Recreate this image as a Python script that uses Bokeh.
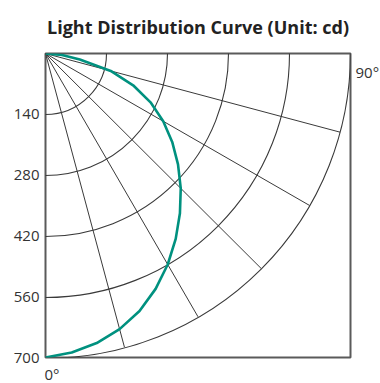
import numpy as np
from bokeh.plotting import figure
from bokeh.models import Range1d, FixedTicker, LinearAxis
from bokeh.embed import file_html
from bokeh.resources import INLINE

# Data
angles_deg = [0, 5, 10, 15, 20, 25, 30, 35, 40, 45, 50, 55, 60, 65, 70, 75, 80, 85, 90]
intensity_cd = [700, 691, 677, 657, 631, 598, 561, 521, 480, 439, 397, 355, 312, 266, 214, 155, 80, 38, 0]
ring_values = [140, 280, 420, 560, 700]
spoke_angles = [15, 30, 45, 60, 75]
angle_labels = ["0°", "90°"]
r_max = 700

TEAL = "#00917f"
GRID = "#3a3a3a"
TEXT = "#333333"
FONT = "Open Sans"

FRAME_W, FRAME_H = 305, 304
px_x = r_max / FRAME_W   # data units per pixel
px_y = r_max / FRAME_H

p = figure(frame_width=FRAME_W, frame_height=FRAME_H, output_backend="svg", toolbar_location=None,
           x_range=Range1d(0, r_max), y_range=Range1d(r_max, 0),
           x_axis_location=None,
           min_border_left=45, min_border_right=30, min_border_top=53, min_border_bottom=26)

p.title.text = "Light Distribution Curve (Unit: cd)"
p.title.align = "center"
p.title.vertical_align = "top"
p.title.offset = -3
p.title.text_font = FONT
p.title.text_font_style = "bold"
p.title.text_font_size = "18px"
p.title.text_color = "#222222"
p.title.standoff = 26

p.xgrid.visible = False
p.ygrid.visible = False
p.outline_line_color = "#5a5a5a"
p.outline_line_width = 2
p.background_fill_color = "white"
p.border_fill_color = "white"


def style_axis(ax, standoff):
    ax.axis_line_color = None
    ax.major_tick_line_color = None
    ax.minor_tick_line_color = None
    ax.major_tick_in = 0
    ax.major_tick_out = 0
    ax.major_label_standoff = standoff
    ax.major_label_text_font = FONT
    ax.major_label_text_font_size = "15px"
    ax.major_label_text_color = TEXT


ya = p.yaxis[0]
ya.ticker = FixedTicker(ticks=ring_values)
style_axis(ya, 6)

# angle labels: 0° below the left edge, 90° to the right of the top edge
x0_tick = 0 + 6.5 * px_x
bx = LinearAxis(ticker=FixedTicker(ticks=[x0_tick]),
                major_label_overrides={x0_tick: angle_labels[0]})
style_axis(bx, 6)
p.add_layout(bx, "below")

y90_tick = 0 + 18 * px_y
ry = LinearAxis(ticker=FixedTicker(ticks=[y90_tick]),
                major_label_overrides={y90_tick: angle_labels[1]})
style_axis(ry, 5)
p.add_layout(ry, "right")

# concentric rings (clipped to the frame -> quadrant)
p.circle(x=[0] * len(ring_values), y=[0] * len(ring_values), radius=ring_values,
         fill_color=None, line_color=GRID, line_width=1.1)

# radial spokes
th = np.radians(spoke_angles)
p.segment(x0=[0] * len(th), y0=[0] * len(th),
          x1=r_max * np.sin(th), y1=r_max * np.cos(th),
          line_color=GRID, line_width=1.0)

# light distribution curve
a = np.radians(angles_deg)
r = np.array(intensity_cd, dtype=float)
p.line(r * np.sin(a), r * np.cos(a), line_color=TEAL, line_width=2.6, line_join="round")

open("out.html", "w").write(file_html(p, INLINE))
